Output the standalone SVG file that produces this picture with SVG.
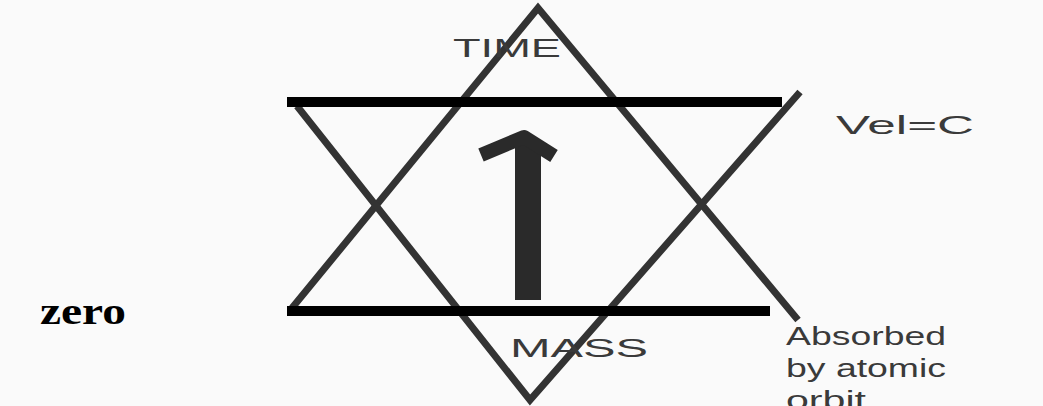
<svg xmlns="http://www.w3.org/2000/svg" width="1043" height="406" viewBox="0 0 1043 406">
<style>
.edge{fill:none;stroke:#333;stroke-width:7;stroke-linecap:butt;stroke-linejoin:miter}
.bar{fill:#000}
.lbl{font-family:"Liberation Sans",Arial,sans-serif;font-size:26px;fill:#3a3a3a}
.zero{font-family:"Liberation Serif","Times New Roman",serif;font-size:38px;font-weight:bold;fill:#000}
</style>
<rect width="1043" height="406" fill="#fafafa"/>
<g id="connectors">
<polyline class="edge" points="292,308 538,8 798,320"/>
<polyline class="edge" points="297,106 530,400 800,92"/>
<rect class="bar" x="287" y="97" width="495" height="10"/>
<rect class="bar" x="287" y="306" width="483" height="10"/>
<g id="arrow" fill="#2a2a2a" stroke="#2a2a2a">
<rect x="515" y="140" width="26" height="160" stroke="none"/>
<polyline points="481,155 524,137 554,156" fill="none" stroke-width="14" stroke-linejoin="round"/>
</g>
</g>
<g id="time"><text class="lbl" x="453" y="57" textLength="108" lengthAdjust="spacingAndGlyphs">TIME</text></g>
<g id="velc"><text class="lbl" x="836" y="134" textLength="138" lengthAdjust="spacingAndGlyphs">Vel=C</text></g>
<g id="mass"><text class="lbl" x="510" y="357" textLength="138" lengthAdjust="spacingAndGlyphs">MASS</text></g>
<g id="zero"><text class="zero" x="40" y="324" textLength="86" lengthAdjust="spacingAndGlyphs">zero</text></g>
<g id="absorbed"><text class="lbl" x="786" y="345" textLength="160" lengthAdjust="spacingAndGlyphs">Absorbed</text>
<text class="lbl" x="786" y="377" textLength="160" lengthAdjust="spacingAndGlyphs">by atomic</text>
<text class="lbl" x="786" y="409" textLength="80" lengthAdjust="spacingAndGlyphs">orbit</text></g>
</svg>
